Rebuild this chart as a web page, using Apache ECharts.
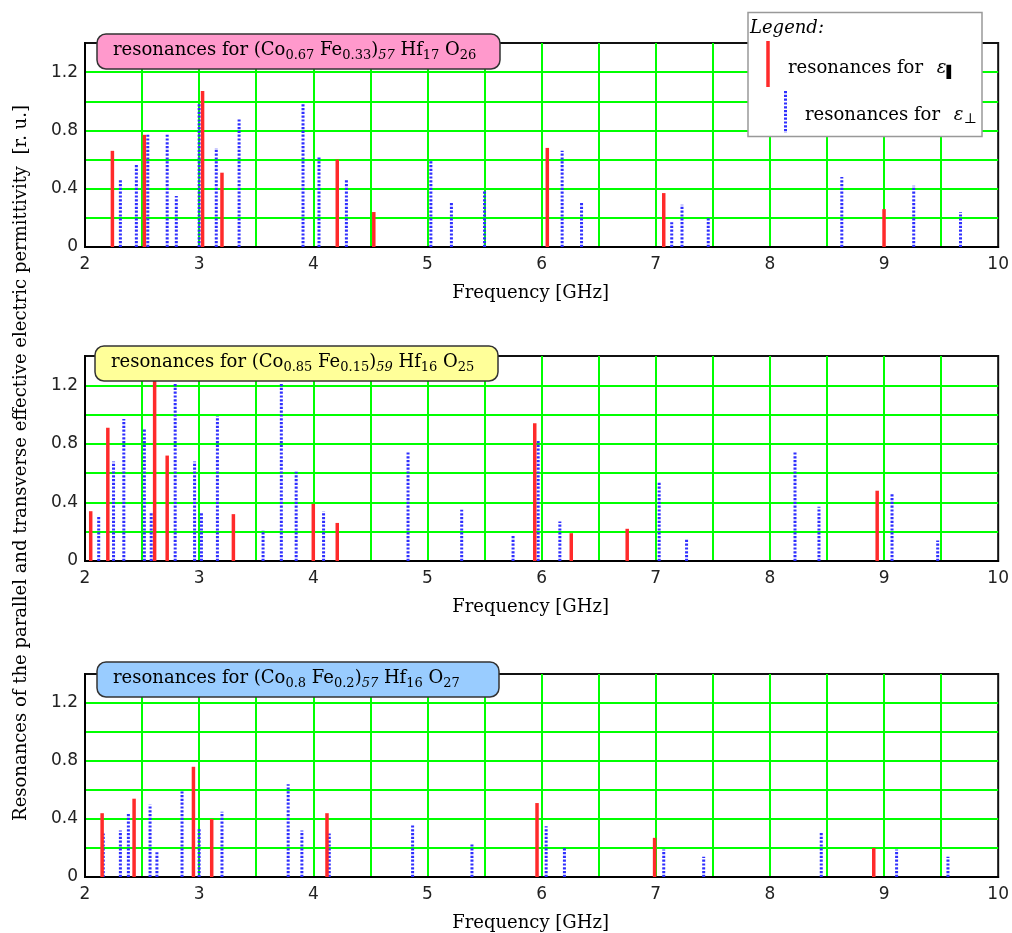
<!DOCTYPE html>
<html>
<head>
<meta charset="utf-8">
<script src="https://cdn.jsdelivr.net/npm/echarts@6/dist/echarts.min.js"></script>
<style>
html,body{margin:0;padding:0;background:#fff;}
#chart{width:1012px;height:933px;}
</style>
</head>
<body>
<div id="chart"></div>
<script>
// ---- data: [frequency GHz, resonance amplitude r.u.] ----
const p1Parallel = [[2.24,0.66],[2.52,0.77],[3.03,1.07],[3.20,0.51],[4.21,0.60],[4.53,0.24],[6.05,0.68],[7.07,0.37],[9.00,0.26]];
const p1Perp = [[2.31,0.46],[2.45,0.57],[2.55,0.77],[2.72,0.77],[2.80,0.35],[3.00,0.98],[3.15,0.68],[3.35,0.88],[3.91,0.98],[4.05,0.62],[4.29,0.47],[5.03,0.59],[5.21,0.31],[5.50,0.39],[6.18,0.66],[6.35,0.31],[7.14,0.17],[7.23,0.29],[7.46,0.20],[8.63,0.48],[9.26,0.42],[9.67,0.24]];

const p2Parallel = [[2.05,0.34],[2.20,0.91],[2.61,1.26],[2.72,0.72],[3.30,0.32],[4.00,0.39],[4.21,0.26],[5.94,0.94],[6.26,0.19],[6.75,0.22],[8.94,0.48]];
const p2Perp = [[2.12,0.30],[2.25,0.68],[2.34,0.97],[2.52,0.90],[2.58,0.33],[2.79,1.21],[2.96,0.68],[3.02,0.33],[3.16,0.99],[3.56,0.21],[3.72,1.21],[3.85,0.61],[4.09,0.34],[4.83,0.75],[5.30,0.35],[5.75,0.18],[5.97,0.83],[6.16,0.27],[7.03,0.54],[7.27,0.15],[8.22,0.75],[8.43,0.37],[9.07,0.46],[9.47,0.14]];

const p3Parallel = [[2.15,0.44],[2.43,0.54],[2.95,0.76],[3.11,0.40],[4.12,0.44],[5.96,0.51],[6.99,0.27],[8.91,0.20]];
const p3Perp = [[2.16,0.30],[2.31,0.32],[2.38,0.44],[2.57,0.50],[2.63,0.17],[2.85,0.59],[3.00,0.34],[3.20,0.45],[3.78,0.64],[3.90,0.32],[4.14,0.30],[4.87,0.36],[5.39,0.23],[6.04,0.35],[6.20,0.21],[7.07,0.19],[7.42,0.14],[8.45,0.31],[9.11,0.19],[9.56,0.14]];

const xAxisName = 'Frequency [GHz]';
const yAxisName = 'Resonances of the parallel and transverse effective electric permittivity  [r. u.]';
const panelTitles = [
  '{t|resonances for (Co}{s|0.67}{t| Fe}{s|0.33}{t|)}{si|57}{t| Hf}{s|17}{t| O}{s|26}',
  '{t|resonances for (Co}{s|0.85}{t| Fe}{s|0.15}{t|)}{si|59}{t| Hf}{s|16}{t| O}{s|25}',
  '{t|resonances for (Co}{s|0.8}{t| Fe}{s|0.2}{t|)}{si|57}{t| Hf}{s|16}{t| O}{s|27}'
];
const legendParallel = 'resonances for ';
const legendPerp = 'resonances for ';

// ---- layout ----
const SERIF = '"DejaVu Serif", "Liberation Serif", serif';
const SANS = '"DejaVu Sans", sans-serif';
const grids = [
  {left: 85, top: 43, width: 916, height: 204},
  {left: 85, top: 356, width: 916, height: 205},
  {left: 85, top: 674, width: 916, height: 203}
];
const titleColors = ['#ff99cc', '#ffff99', '#99ccff'];
const titlePos = [{left: 97, top: 31}, {left: 95, top: 343}, {left: 97, top: 659}];
const titleRightPad = [24, 24, 39];

const RED = '#ff2a2a';
const BLUE = '#2f2fff';

function makeRender(color, width, dash) {
  return function (params, api) {
    const x = api.value(0);
    const p0 = api.coord([x, 0]);
    const p1 = api.coord([x, api.value(1)]);
    return {
      type: 'line',
      shape: {x1: p0[0], y1: p0[1], x2: p1[0], y2: p1[1]},
      style: {stroke: color, lineWidth: width, lineDash: dash, lineCap: 'butt'}
    };
  };
}

const richTitle = {
  t: {fontFamily: SERIF, fontSize: 18, fontWeight: 'normal', color: '#000', lineHeight: 24},
  s: {fontFamily: SERIF, fontSize: 13, fontWeight: 'normal', color: '#000', verticalAlign: 'bottom', lineHeight: 24, padding: [8, 0, 0, 0]},
  si: {fontFamily: SERIF, fontSize: 13, fontWeight: 'normal', fontStyle: 'italic', color: '#000', verticalAlign: 'bottom', lineHeight: 24, padding: [8, 0, 0, 0]}
};

const xAxes = grids.map((g, i) => ({
  type: 'value', gridIndex: i, min: 2, max: 10, interval: 0.5,
  axisLine: {show: true, onZero: false, lineStyle: {color: '#000', width: 2}},
  axisTick: {show: false},
  splitLine: {show: true, showMinLine: false, showMaxLine: false, lineStyle: {color: '#00ff00', width: 2}},
  axisLabel: {
    margin: 9, fontFamily: SANS, fontSize: 17, color: '#222',
    formatter: v => (Math.abs(v - Math.round(v)) < 1e-6 ? String(Math.round(v)) : '')
  },
  name: xAxisName, nameLocation: 'middle', nameGap: 37,
  nameTextStyle: {fontFamily: SERIF, fontSize: 18, color: '#000', padding: [0, 22, 0, 0]}
}));

const yAxes = grids.map((g, i) => ({
  type: 'value', gridIndex: i, min: 0, max: 1.4, interval: 0.2,
  axisLine: {show: true, lineStyle: {color: '#000', width: 2}},
  axisTick: {show: false},
  splitLine: {show: true, showMinLine: false, showMaxLine: false, lineStyle: {color: '#00ff00', width: 2}},
  axisLabel: {
    margin: 7, fontFamily: SANS, fontSize: 17, color: '#222',
    formatter: v => {
      const k = v / 0.4;
      if (Math.abs(k - Math.round(k)) > 1e-6) return '';
      return v === 0 ? '0' : v.toFixed(1);
    }
  }
}));

const panels = [[p1Parallel, p1Perp], [p2Parallel, p2Perp], [p3Parallel, p3Perp]];
const series = [];
panels.forEach((p, i) => {
  series.push({
    type: 'custom', name: 'parallel', xAxisIndex: i, yAxisIndex: i,
    renderItem: makeRender(RED, 3.5, null), data: p[0], z: 4
  });
  series.push({
    type: 'custom', name: 'perpendicular', xAxisIndex: i, yAxisIndex: i,
    renderItem: makeRender(BLUE, 3, [2.2, 1.6]), data: p[1], z: 3
  });
});

const titles = panelTitles.map((t, i) => ({
  text: t, left: titlePos[i].left, top: titlePos[i].top,
  backgroundColor: titleColors[i], borderColor: '#333', borderWidth: 1.5, borderRadius: 9,
  padding: [7, titleRightPad[i], 7, 16],
  textStyle: {rich: richTitle, fontFamily: SERIF, fontSize: 18, fontWeight: 'normal'}
}));

const legendRich = {
  t: {fontFamily: SERIF, fontSize: 18, color: '#000', lineHeight: 22},
  e: {fontFamily: SERIF, fontSize: 18, fontStyle: 'italic', color: '#000', lineHeight: 22, padding: [0, 0, 0, 8]},
  sp: {fontFamily: SANS, fontSize: 12, fontWeight: 'bold', color: '#000', verticalAlign: 'bottom', lineHeight: 22, padding: [8, 0, 0, 0]},
  sq: {fontFamily: SERIF, fontSize: 14, color: '#000', verticalAlign: 'bottom', lineHeight: 22, padding: [8, 0, 0, 0]}
};

const option = {
  backgroundColor: '#fff',
  animation: false,
  title: titles,
  grid: grids.map(g => Object.assign({show: true, borderColor: '#111', borderWidth: 2, backgroundColor: 'transparent'}, g)),
  xAxis: xAxes,
  yAxis: yAxes,
  series: series,
  graphic: [
    {
      type: 'text', x: 21, y: 463, rotation: Math.PI / 2, z: 100,
      style: {text: yAxisName, fontFamily: SERIF, fontSize: 18, fill: '#000', align: 'center', verticalAlign: 'middle'}
    },
    {type: 'rect', z: 100, shape: {x: 748, y: 12.5, width: 234, height: 124}, style: {fill: '#fff', stroke: '#999', lineWidth: 1.5}},
    {type: 'text', z: 101, x: 750, y: 28, style: {text: 'Legend:', fontFamily: SERIF, fontSize: 18, fontStyle: 'italic', fill: '#000', verticalAlign: 'middle'}},
    {type: 'line', z: 101, shape: {x1: 768, y1: 41, x2: 768, y2: 87}, style: {stroke: RED, lineWidth: 3.5}},
    {type: 'text', z: 101, x: 788, y: 68, style: {text: '{t|' + legendParallel + '}{e|ε}{sp|▌}', rich: legendRich, verticalAlign: 'middle'}},
    {type: 'line', z: 101, shape: {x1: 785.5, y1: 91, x2: 785.5, y2: 133}, style: {stroke: BLUE, lineWidth: 3, lineDash: [2.2, 1.6]}},
    {type: 'text', z: 101, x: 805, y: 115, style: {text: '{t|' + legendPerp + '}{e|ε}{sq|⊥}', rich: legendRich, verticalAlign: 'middle'}}
  ]
};

const chart = echarts.init(document.getElementById('chart'), null, {renderer: 'canvas'});
chart.setOption(option);
</script>
</body>
</html>
